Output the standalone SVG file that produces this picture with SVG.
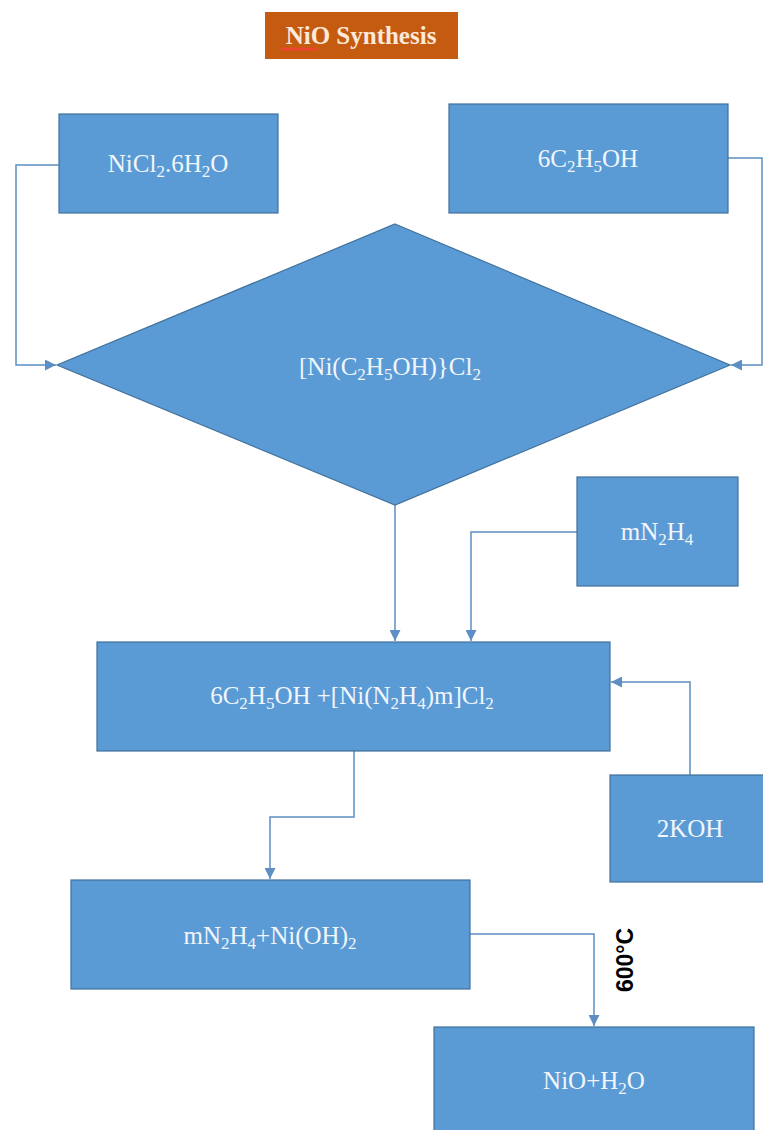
<svg xmlns="http://www.w3.org/2000/svg" width="763" height="1130" viewBox="0 0 763 1130">
<style>
.box{fill:#5b9bd5;stroke:#41719c;stroke-width:1.2}
.lbl{font-family:"Liberation Serif","Times New Roman",serif;font-size:25px;fill:#f2f6fc;text-anchor:middle}
.sub{font-size:17px}
.conn{fill:none;stroke:#5e8fc4;stroke-width:1.5}
</style>
<defs>
<marker id="ah" viewBox="0 0 10 10" refX="10" refY="5" markerWidth="11" markerHeight="11" markerUnits="userSpaceOnUse" orient="auto">
<path d="M0,0 L10,5 L0,10 z" fill="#5e8fc4"/>
</marker>
</defs>
<rect width="763" height="1130" fill="#ffffff"/>
<g id="title">
<rect x="265" y="12" width="193" height="47" fill="#c55a11"/>
<text x="361" y="44" font-family="Liberation Serif,Times New Roman,serif" font-weight="bold" font-size="25" fill="#fbe9da" text-anchor="middle">NiO Synthesis</text>
<path d="M281,50 l2,-2 l2,2 l2,-2 l2,2 l2,-2 l2,2 l2,-2 l2,2 l2,-2 l2,2 l2,-2 l2,2 l2,-2 l2,2 l2,-2 l2,2 l2,-2 l2,2" fill="none" stroke="#ff3b3b" stroke-width="1.3"/>
</g>
<g id="connectors">
<polyline class="conn" points="59,165 16,165 16,365 56,365" marker-end="url(#ah)"/>
<polyline class="conn" points="728,158 762,158 762,365 731,365" marker-end="url(#ah)"/>
<polyline class="conn" points="395,505 395,641" marker-end="url(#ah)"/>
<polyline class="conn" points="577,532 471,532 471,641" marker-end="url(#ah)"/>
<polyline class="conn" points="690,775 690,682 611,682" marker-end="url(#ah)"/>
<polyline class="conn" points="354,751 354,817 270,817 270,879" marker-end="url(#ah)"/>
<polyline class="conn" points="470,934 594,934 594,1026" marker-end="url(#ah)"/>
<text transform="translate(633,960) rotate(-90)" font-family="Liberation Sans,Arial,sans-serif" font-weight="bold" font-size="23" fill="#000" text-anchor="middle">600°C</text>
</g>
<g id="nicl2">
<rect class="box" x="59" y="114" width="219" height="99"/>
<text class="lbl" x="168" y="172">NiCl<tspan class="sub" dy="5">2</tspan><tspan dy="-5">.6H</tspan><tspan class="sub" dy="5">2</tspan><tspan dy="-5">O</tspan></text>
</g>
<g id="ethanol">
<rect class="box" x="449" y="104" width="279" height="109"/>
<text class="lbl" x="588" y="167">6C<tspan class="sub" dy="5">2</tspan><tspan dy="-5">H</tspan><tspan class="sub" dy="5">5</tspan><tspan dy="-5">OH</tspan></text>
</g>
<g id="complex">
<polygon class="box" points="395,224 730,365 395,505 57,365"/>
<text class="lbl" x="390" y="375">[Ni(C<tspan class="sub" dy="5">2</tspan><tspan dy="-5">H</tspan><tspan class="sub" dy="5">5</tspan><tspan dy="-5">OH)}Cl</tspan><tspan class="sub" dy="5">2</tspan></text>
</g>
<g id="hydrazine">
<rect class="box" x="577" y="477" width="161" height="109"/>
<text class="lbl" x="657" y="540">mN<tspan class="sub" dy="5">2</tspan><tspan dy="-5">H</tspan><tspan class="sub" dy="5">4</tspan></text>
</g>
<g id="mixture">
<rect class="box" x="97" y="642" width="513" height="109"/>
<text class="lbl" x="352" y="704">6C<tspan class="sub" dy="5">2</tspan><tspan dy="-5">H</tspan><tspan class="sub" dy="5">5</tspan><tspan dy="-5">OH +[Ni(N</tspan><tspan class="sub" dy="5">2</tspan><tspan dy="-5">H</tspan><tspan class="sub" dy="5">4</tspan><tspan dy="-5">)m]Cl</tspan><tspan class="sub" dy="5">2</tspan></text>
</g>
<g id="koh">
<rect class="box" x="610" y="775" width="160" height="107"/>
<text class="lbl" x="690" y="837">2KOH</text>
</g>
<g id="hydroxide">
<rect class="box" x="71" y="880" width="399" height="109"/>
<text class="lbl" x="270" y="944">mN<tspan class="sub" dy="5">2</tspan><tspan dy="-5">H</tspan><tspan class="sub" dy="5">4</tspan><tspan dy="-5">+Ni(OH)</tspan><tspan class="sub" dy="5">2</tspan></text>
</g>
<g id="nio">
<rect class="box" x="434" y="1027" width="320" height="110"/>
<text class="lbl" x="594" y="1089">NiO+H<tspan class="sub" dy="5">2</tspan><tspan dy="-5">O</tspan></text>
</g>
</svg>
